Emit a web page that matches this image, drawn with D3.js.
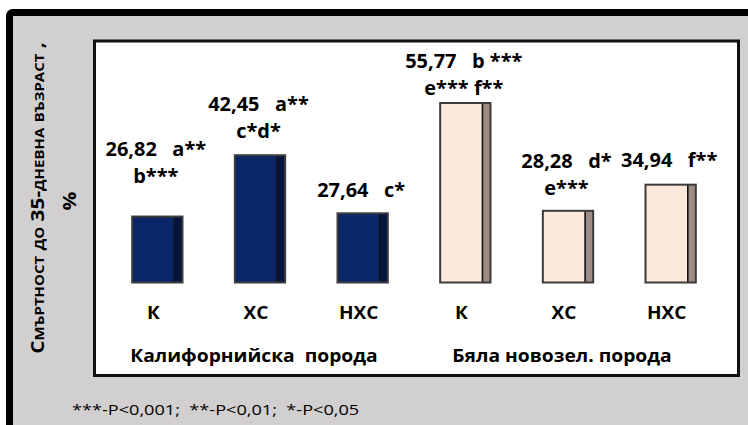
<!DOCTYPE html>
<html>
<head>
<meta charset="utf-8">
<script src="https://cdn.jsdelivr.net/npm/d3@7"></script>
<style>
  body { margin: 0; background: #fff; }
  svg { display: block; }
  text { font-family: "Open Sans", "Noto Sans", sans-serif; white-space: pre; fill: #000; }
</style>
</head>
<body>
<svg id="chart" width="748" height="425"></svg>
<script>
// Mortality up to 35 days of age, % — two rabbit breeds, three groups each
const categories = ["К", "ХС", "НХС", "К", "ХС", "НХС"];
const breeds = ["Калифорнийска  порода", "Бяла новозел. порода"];
const breedOf = [0, 0, 0, 1, 1, 1];
const mortality = [26.82, 42.45, 27.64, 55.77, 28.28, 34.94];
const signifLine1 = ["a**", "a**", "c*", "b ***", "d*", "f**"];
const signifLine2 = ["b***", "c*d*", "", "e*** f**", "e***", ""];
const yTitle = "Смъртност до 35-дневна възраст ,";
const yUnit = "%";
const footnote = "***-P<0,001;  **-P<0,01;  *-P<0,05";

// layout
const labelGap = [34, 17, 16, 8, 16, 18]; // space between bar top and its label block
const lineStep = 27;
const breedColors = [
  { face: "#0a2668", side: "#05153d" },
  { face: "#fde9dc", side: "#9e8b84" }
];

const svg = d3.select("#chart");

// outer frame
svg.append("rect")
  .attr("x", 9.5).attr("y", 12.5).attr("width", 800).attr("height", 500)
  .attr("rx", 3)
  .attr("fill", "#d1cfd0").attr("stroke", "#000").attr("stroke-width", 7);

// plot area
svg.append("rect")
  .attr("x", 94.5).attr("y", 41).attr("width", 644).attr("height", 334.5)
  .attr("fill", "#fff").attr("stroke", "#111").attr("stroke-width", 3);

const x = d3.scaleBand()
  .domain(d3.range(mortality.length))
  .range([106, 722])
  .paddingInner(0.51)
  .paddingOuter(0.255);

const y = d3.scaleLinear().domain([10, 60]).range([282.5, 86.4]);

const bw = x.bandwidth();
const side = bw * 0.16;
const fmt = v => d3.format(".2f")(v).replace(".", ",");

function stretchedText(g, px, py, txt, size, weight, sx, anchor) {
  return g.append("text")
    .attr("transform", `translate(${px},${py}) scale(${sx},1)`)
    .attr("text-anchor", anchor || "middle")
    .style("font-size", size + "px")
    .style("font-weight", weight)
    .text(txt);
}

const bars = svg.append("g");
mortality.forEach((v, i) => {
  const x0 = x(i), top = y(v), bottom = y(10), h = bottom - top;
  const c = breedColors[breedOf[i]];
  const g = bars.append("g");
  g.append("rect").attr("x", x0).attr("y", top).attr("width", bw - side).attr("height", h)
    .attr("fill", c.face);
  g.append("rect").attr("x", x0 + bw - side).attr("y", top).attr("width", side).attr("height", h)
    .attr("fill", c.side);
  g.append("line").attr("x1", x0 + bw - side).attr("x2", x0 + bw - side)
    .attr("y1", top).attr("y2", bottom)
    .attr("stroke", "#111").attr("stroke-width", 1.6);
  g.append("rect").attr("x", x0).attr("y", top).attr("width", bw).attr("height", h)
    .attr("fill", "none").attr("stroke", "#3c3c3c").attr("stroke-width", 2);
});

// value labels with significance marks
const labels = svg.append("g");
mortality.forEach((v, i) => {
  const cx = x(i) + bw / 2 - 1.5;
  const lastBase = y(v) - labelGap[i];
  const hasSecond = signifLine2[i] !== "";
  const firstBase = hasSecond ? lastBase - lineStep : lastBase;
  stretchedText(labels, cx, firstBase, fmt(v) + "   " + signifLine1[i], 19, 700, 1.05);
  if (hasSecond) stretchedText(labels, cx, lastBase, signifLine2[i], 19, 700, 1.05);
});

// category labels (centred on the bar front faces)
const faceCenter = i => x(i) + (bw - side) / 2;
categories.forEach((c, i) => {
  stretchedText(svg, faceCenter(i), 319, c, 17, 700, 1.12);
});

// breed labels
breeds.forEach((b, k) => {
  const idx = d3.range(categories.length).filter(i => breedOf[i] === k);
  const cx = d3.mean(idx, faceCenter);
  stretchedText(svg, cx - 2, 362, b, 18, 700, 1.07);
});

// y axis title
svg.append("text")
  .attr("transform", "translate(44,198) rotate(-90) scale(1.16,1)")
  .attr("text-anchor", "middle")
  .style("font-size", "18px").style("font-weight", 700)
  .style("font-variant-caps", "small-caps")
  .text(yTitle);
svg.append("text")
  .attr("transform", "translate(76,201) rotate(-90) scale(1.16,1)")
  .attr("text-anchor", "middle")
  .style("font-size", "18px").style("font-weight", 700)
  .text(yUnit);

// significance footnote
stretchedText(svg, 72, 415, footnote, 15, 400, 1.21, "start");
</script>
</body>
</html>
